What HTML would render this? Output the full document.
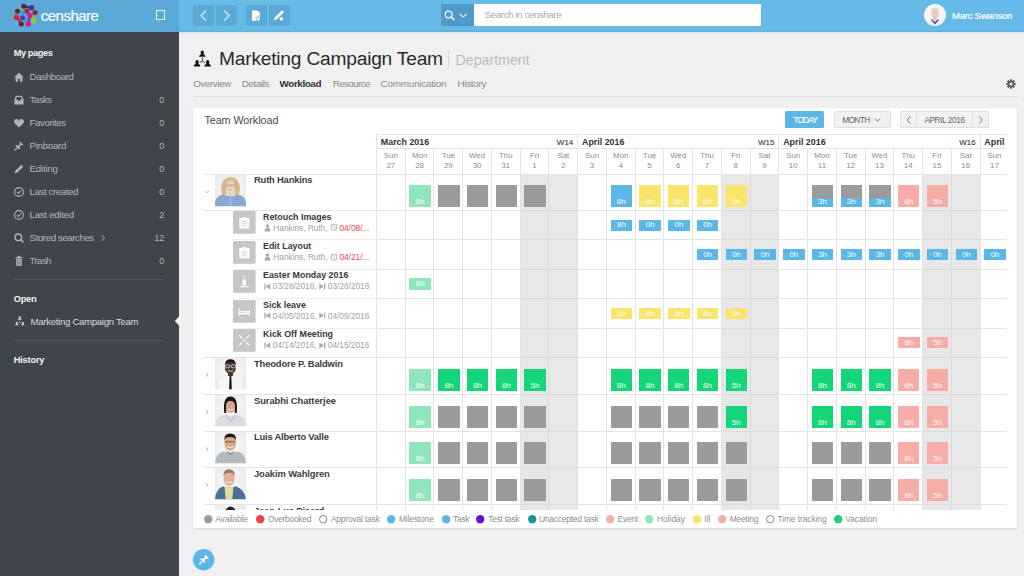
<!DOCTYPE html><html><head><meta charset="utf-8"><style>
html,body{margin:0;padding:0;width:1024px;height:576px;overflow:hidden;background:#f0f0f0;font-family:"Liberation Sans", sans-serif;}
.t{position:absolute;white-space:nowrap;}
.b{position:absolute;}
svg{position:absolute;overflow:visible;}
</style></head><body>
<div class="b" style="left:0.00px;top:0.00px;width:1024.00px;height:32.00px;box-shadow:0 1px 1.5px rgba(0,0,0,0.10);"></div>
<div class="b" style="left:0.00px;top:0.00px;width:179.00px;height:32.00px;background:#5aa9d7;"></div>
<div class="b" style="left:179.00px;top:0.00px;width:845.00px;height:32.00px;background:linear-gradient(#66bae7 0,#66bae7 30px,#5fb0dc 32px);"></div>
<div class="b" style="left:0.00px;top:32.00px;width:179.00px;height:544.00px;background:#40444b;"></div>
<svg style="left:0;top:0" width="60" height="31"><g stroke-width="2.2" stroke-linecap="round"><line x1="23.7" y1="6.2" x2="31.5" y2="7.8" stroke="#5a2a70"/><line x1="20.8" y1="9.1" x2="22.6" y2="12.6" stroke="#8ac83a"/><line x1="22.6" y1="12.6" x2="22.4" y2="18" stroke="#2a9ee0"/><line x1="26.7" y1="11" x2="29.9" y2="15.6" stroke="#c0204a"/><line x1="33.7" y1="20.7" x2="35" y2="12.6" stroke="#9cc82c"/><line x1="16.5" y1="17.2" x2="21.3" y2="23.9" stroke="#c02430"/><line x1="29.9" y1="15.6" x2="28.3" y2="23.9" stroke="#7a2aa0"/><line x1="22.4" y1="18" x2="26.1" y2="20.2" stroke="#2aa0e0"/></g><circle cx="23.7" cy="6.2" r="2.5" fill="#4a2548"/><circle cx="31.5" cy="7.8" r="2.7" fill="#5a2a90"/><circle cx="17.5" cy="11.3" r="2.5" fill="#5e2626"/><circle cx="26.7" cy="11" r="2.4" fill="#b0262e"/><circle cx="35" cy="12.6" r="2.6" fill="#8a2830"/><circle cx="22.6" cy="12.6" r="2.4" fill="#2a9ee0"/><circle cx="16.5" cy="17.2" r="2.6" fill="#d62730"/><circle cx="22.4" cy="18" r="2.5" fill="#6a2a9a"/><circle cx="29.9" cy="15.6" r="2.6" fill="#e0188c"/><circle cx="33.7" cy="20.7" r="2.7" fill="#9cc82c"/><circle cx="21.3" cy="23.9" r="2.5" fill="#6a2030"/><circle cx="28.3" cy="23.9" r="2.7" fill="#e8108c"/><circle cx="26.1" cy="20.2" r="2.0" fill="#2aa0e0"/></svg>
<div class="t" style="left:40.80px;top:8.25px;font-size:15px;line-height:15px;color:#ffffff;font-weight:400;letter-spacing:-0.515px;-webkit-text-stroke:0.15px #fff;">censhare</div>
<div class="b" style="left:155.50px;top:10.00px;width:9.00px;height:9.50px;border:1.3px solid #e8f4fb;box-sizing:border-box;"></div>
<div class="b" style="left:193.00px;top:4.50px;width:21.00px;height:21.00px;background:#5aaad8;border-radius:2px;"></div>
<div class="b" style="left:216.00px;top:4.50px;width:21.00px;height:21.00px;background:#5aaad8;border-radius:2px;"></div>
<div class="b" style="left:246.00px;top:4.50px;width:21.00px;height:21.00px;background:#5aaad8;border-radius:2px;"></div>
<div class="b" style="left:269.00px;top:4.50px;width:21.00px;height:21.00px;background:#5aaad8;border-radius:2px;"></div>
<svg style="left:193px;top:4.5px" width="21" height="21"><polyline points="13,5.6 8,10.6 13,15.6" fill="none" stroke="#e6f3fa" stroke-width="1.15"/></svg>
<svg style="left:216px;top:4.5px" width="21" height="21"><polyline points="8.2,5.6 13.2,10.6 8.2,15.6" fill="none" stroke="#e6f3fa" stroke-width="1.15"/></svg>
<svg style="left:246px;top:4.5px" width="21" height="21"><path d="M6,5.4 h5.3 l2.7,2.7 v7.6 h-8z" fill="#ffffff"/><polygon points="12.20,9.80 13.14,12.11 15.62,12.29 13.72,13.89 14.32,16.31 12.20,15.00 10.08,16.31 10.68,13.89 8.78,12.29 11.26,12.11" fill="#5aabd9"/><polygon points="12.20,11.10 12.85,12.71 14.58,12.83 13.25,13.94 13.67,15.62 12.20,14.70 10.73,15.62 11.15,13.94 9.82,12.83 11.55,12.71" fill="#ffffff"/></svg>
<svg style="left:269px;top:4.5px" width="21" height="21"><path d="M5,15.2 l0.6,-2.4 7.6,-7.6 1.8,1.8 -7.6,7.6z" fill="#ffffff"/><polygon points="12.30,9.80 13.30,12.22 15.91,12.43 13.92,14.13 14.53,16.67 12.30,15.30 10.07,16.67 10.68,14.13 8.69,12.43 11.30,12.22" fill="#5aabd9"/><polygon points="12.30,11.20 12.98,12.87 14.77,13.00 13.39,14.16 13.83,15.90 12.30,14.95 10.77,15.90 11.21,14.16 9.83,13.00 11.62,12.87" fill="#ffffff"/></svg>
<div class="b" style="left:441.00px;top:4.40px;width:33.00px;height:21.40px;background:#4f9ac8;"></div>
<svg style="left:441px;top:4.5px" width="33" height="21"><circle cx="7.7" cy="9.4" r="3.4" fill="none" stroke="#f4f9fc" stroke-width="1.25"/><line x1="10.2" y1="11.9" x2="12.8" y2="14.5" stroke="#f4f9fc" stroke-width="1.6" stroke-linecap="round"/><polyline points="18.9,9 22.2,12.1 25.5,9" fill="none" stroke="#f4f9fc" stroke-width="1.1"/></svg>
<div class="b" style="left:474.00px;top:4.40px;width:287.00px;height:21.40px;background:#ffffff;border-radius:0 1.5px 1.5px 0;"></div>
<div class="t" style="left:484.70px;top:10.38px;font-size:9.9px;line-height:9.9px;color:#a9a9a9;font-weight:400;letter-spacing:-0.477px;">Search in censhare</div>
<svg style="left:924px;top:4px" width="22" height="22"><defs><clipPath id="uc"><circle cx="11" cy="11" r="10.6"/></clipPath></defs><circle cx="11" cy="11" r="11" fill="#f4f6f9"/><g clip-path="url(#uc)"><rect x="0" y="0" width="22" height="22" fill="#f7f7fa"/><path d="M3,22 q1,-6 8,-6.5 q7,0.5 8,6.5z" fill="#ececf3"/><path d="M6.8,15.8 l4.2,4.6 4.2,-4.6 -1.2,-0.6 -3,2.8 -3,-2.8z" fill="#5e4f92"/><rect x="9.2" y="12" width="3.6" height="4" fill="#e2baa8"/><ellipse cx="11" cy="9.6" rx="3.9" ry="4.6" fill="#eccbbb"/><path d="M6.9,9 q-0.6,-5.4 4.1,-5.4 q4.7,0 4.1,5.4 q-0.5,-2.8 -4.1,-2.9 q-3.6,0.1 -4.1,2.9z" fill="#dcdcdc"/></g></svg>
<div class="t" style="left:952.00px;top:10.53px;font-size:9.5px;line-height:9.5px;color:#ffffff;font-weight:400;letter-spacing:-0.237px;-webkit-text-stroke:0.2px #fff;">Marc Swanson</div>
<div class="t" style="left:13.70px;top:49.49px;font-size:9.3px;line-height:9.3px;color:#f2f2f2;font-weight:700;letter-spacing:-0.447px;">My pages</div>
<div class="t" style="left:29.60px;top:71.97px;font-size:9.8px;line-height:9.8px;color:#b1b4b8;font-weight:400;letter-spacing:-0.449px;">Dashboard</div>
<svg style="left:13px;top:71.00px" width="12" height="12"><path d="M1.3,6.3 L6,1.6 L10.7,6.3 L9.4,6.3 L9.4,10.7 L7,10.7 L7,8 L5,8 L5,10.7 L2.6,10.7 L2.6,6.3z" fill="#b1b4b8"/></svg>
<div class="t" style="left:29.60px;top:95.02px;font-size:9.8px;line-height:9.8px;color:#b1b4b8;font-weight:400;letter-spacing:-0.649px;">Tasks</div>
<div class="t" style="right:859.70px;text-align:right;top:95.57px;font-size:9.15px;line-height:9.15px;color:#b1b4b8;font-weight:400;">0</div>
<svg style="left:13px;top:94.05px" width="12" height="12"><path d="M1.5,5.5 L3,1.7 H9 L10.5,5.5 V10.5 H1.5z" fill="#b1b4b8"/><path d="M3,5.5 H4.6 L5.4,7 H6.6 L7.4,5.5 H9 L8.2,3 H3.8z" fill="#40444b"/></svg>
<div class="t" style="left:29.60px;top:118.07px;font-size:9.8px;line-height:9.8px;color:#b1b4b8;font-weight:400;letter-spacing:-0.466px;">Favorites</div>
<div class="t" style="right:859.70px;text-align:right;top:118.62px;font-size:9.15px;line-height:9.15px;color:#b1b4b8;font-weight:400;">0</div>
<svg style="left:13px;top:117.10px" width="12" height="12"><path d="M6,10.6 L1.6,6.2 Q0.3,4.6 1.5,2.9 Q3.6,1 6,3.4 Q8.4,1 10.5,2.9 Q11.7,4.6 10.4,6.2z" fill="#b1b4b8"/></svg>
<div class="t" style="left:29.60px;top:141.12px;font-size:9.8px;line-height:9.8px;color:#b1b4b8;font-weight:400;letter-spacing:-0.340px;">Pinboard</div>
<div class="t" style="right:859.70px;text-align:right;top:141.67px;font-size:9.15px;line-height:9.15px;color:#b1b4b8;font-weight:400;">0</div>
<svg style="left:13px;top:140.15px" width="12" height="12"><path d="M7,1.5 L10.5,5 L9.5,5.5 L8,5 L6.5,6.5 L7,8.5 L6,9.5 L2.5,6 L3.5,5 L5.5,5.5 L7,4 L6.5,2.5z" fill="#b1b4b8"/><line x1="4" y1="8" x2="1.5" y2="10.5" stroke="#b1b4b8" stroke-width="1.2"/></svg>
<div class="t" style="left:29.60px;top:164.17px;font-size:9.8px;line-height:9.8px;color:#b1b4b8;font-weight:400;letter-spacing:-0.267px;">Editing</div>
<div class="t" style="right:859.70px;text-align:right;top:164.72px;font-size:9.15px;line-height:9.15px;color:#b1b4b8;font-weight:400;">0</div>
<svg style="left:13px;top:163.20px" width="12" height="12"><path d="M1.8,10.2 L2.3,7.8 L8.3,1.8 L10.2,3.7 L4.2,9.7z" fill="#b1b4b8"/></svg>
<div class="t" style="left:29.60px;top:187.22px;font-size:9.8px;line-height:9.8px;color:#b1b4b8;font-weight:400;letter-spacing:-0.468px;">Last created</div>
<div class="t" style="right:859.70px;text-align:right;top:187.77px;font-size:9.15px;line-height:9.15px;color:#b1b4b8;font-weight:400;">0</div>
<svg style="left:13px;top:186.25px" width="12" height="12"><circle cx="6" cy="6" r="4.4" fill="none" stroke="#b1b4b8" stroke-width="1.1"/><polyline points="4,6.2 5.5,7.5 8,4.5" fill="none" stroke="#b1b4b8" stroke-width="1.1"/></svg>
<div class="t" style="left:29.60px;top:210.27px;font-size:9.8px;line-height:9.8px;color:#b1b4b8;font-weight:400;letter-spacing:-0.340px;">Last edited</div>
<div class="t" style="right:859.70px;text-align:right;top:210.82px;font-size:9.15px;line-height:9.15px;color:#b1b4b8;font-weight:400;">2</div>
<svg style="left:13px;top:209.30px" width="12" height="12"><circle cx="6" cy="6" r="4.4" fill="none" stroke="#b1b4b8" stroke-width="1.1"/><polyline points="4,6.2 5.5,7.5 8,4.5" fill="none" stroke="#b1b4b8" stroke-width="1.1"/></svg>
<div class="t" style="left:29.60px;top:233.32px;font-size:9.8px;line-height:9.8px;color:#b1b4b8;font-weight:400;letter-spacing:-0.476px;">Stored searches</div>
<div class="t" style="right:859.70px;text-align:right;top:233.87px;font-size:9.15px;line-height:9.15px;color:#b1b4b8;font-weight:400;">12</div>
<svg style="left:13px;top:232.35px" width="12" height="12"><circle cx="5.3" cy="5.3" r="3.3" fill="none" stroke="#b1b4b8" stroke-width="1.4"/><line x1="7.6" y1="7.6" x2="10.4" y2="10.4" stroke="#b1b4b8" stroke-width="1.6"/></svg>
<svg style="left:97px;top:232.35px" width="12" height="12"><polyline points="4.5,3 7.5,6 4.5,9" fill="none" stroke="#b1b4b8" stroke-width="1"/></svg>
<div class="t" style="left:29.60px;top:256.37px;font-size:9.8px;line-height:9.8px;color:#b1b4b8;font-weight:400;letter-spacing:-0.677px;">Trash</div>
<div class="t" style="right:859.70px;text-align:right;top:256.92px;font-size:9.15px;line-height:9.15px;color:#b1b4b8;font-weight:400;">0</div>
<svg style="left:13px;top:255.40px" width="12" height="12"><rect x="2.5" y="2" width="7" height="1.3" fill="#b1b4b8"/><rect x="4.8" y="0.9" width="2.4" height="1.4" fill="#b1b4b8"/><rect x="3.2" y="3.8" width="5.6" height="7" fill="#b1b4b8"/><line x1="5" y1="5" x2="5" y2="10" stroke="#40444b" stroke-width="0.6"/><line x1="7" y1="5" x2="7" y2="10" stroke="#40444b" stroke-width="0.6"/></svg>
<div class="b" style="left:13.70px;top:279.00px;width:150.50px;height:1.00px;background:#51555c;"></div>
<div class="t" style="left:13.70px;top:294.60px;font-size:9.3px;line-height:9.3px;color:#f2f2f2;font-weight:700;letter-spacing:-0.291px;">Open</div>
<svg style="left:14.5px;top:316px" width="9.6" height="9.37" viewBox="5.8 6.2 16.8 16.4"><g fill="#d8d9db"><ellipse cx="14.1" cy="8.80" rx="1.65" ry="2.2"/><path d="M11.00,12.9 L11.00,12.10 Q11.30,10.40 14.1,10.30 Q16.90,10.40 17.20,12.10 L17.20,12.9z"/><ellipse cx="8.85" cy="18.50" rx="1.65" ry="2.2"/><path d="M5.75,22.6 L5.75,21.80 Q6.05,20.10 8.85,20.00 Q11.65,20.10 11.95,21.80 L11.95,22.6z"/><ellipse cx="19.45" cy="18.50" rx="1.65" ry="2.2"/><path d="M16.35,22.6 L16.35,21.80 Q16.65,20.10 19.45,20.00 Q22.25,20.10 22.55,21.80 L22.55,22.6z"/></g><g stroke="#d8d9db" stroke-width="0.8" fill="none"><line x1="14.1" y1="13.8" x2="14.1" y2="17.2"/><line x1="14.1" y1="17.2" x2="11.6" y2="18.8"/><line x1="14.1" y1="17.2" x2="16.6" y2="18.8"/></g></svg>
<div class="t" style="left:30.50px;top:317.04px;font-size:9.6px;line-height:9.6px;color:#d8d9db;font-weight:400;letter-spacing:-0.290px;">Marketing Campaign Team</div>
<svg style="left:174px;top:315px" width="6" height="12"><path d="M6,0.5 L0.8,6 L6,11.5z" fill="#f0f0f0"/></svg>
<div class="b" style="left:13.70px;top:340.00px;width:150.50px;height:1.00px;background:#51555c;"></div>
<div class="t" style="left:13.70px;top:355.90px;font-size:9.3px;line-height:9.3px;color:#f2f2f2;font-weight:700;letter-spacing:-0.204px;">History</div>
<svg style="left:193.8px;top:50.3px" width="16.8" height="16.40" viewBox="5.8 6.2 16.8 16.4"><g fill="#151515"><ellipse cx="14.1" cy="8.80" rx="1.65" ry="2.2"/><path d="M11.00,12.9 L11.00,12.10 Q11.30,10.40 14.1,10.30 Q16.90,10.40 17.20,12.10 L17.20,12.9z"/><ellipse cx="8.85" cy="18.50" rx="1.65" ry="2.2"/><path d="M5.75,22.6 L5.75,21.80 Q6.05,20.10 8.85,20.00 Q11.65,20.10 11.95,21.80 L11.95,22.6z"/><ellipse cx="19.45" cy="18.50" rx="1.65" ry="2.2"/><path d="M16.35,22.6 L16.35,21.80 Q16.65,20.10 19.45,20.00 Q22.25,20.10 22.55,21.80 L22.55,22.6z"/></g><g stroke="#151515" stroke-width="0.8" fill="none"><line x1="14.1" y1="13.8" x2="14.1" y2="17.2"/><line x1="14.1" y1="17.2" x2="11.6" y2="18.8"/><line x1="14.1" y1="17.2" x2="16.6" y2="18.8"/></g></svg>
<div class="t" style="left:219.00px;top:49.08px;font-size:19.2px;line-height:19.2px;color:#2b2b2b;font-weight:400;letter-spacing:-0.22px;">Marketing Campaign Team</div>
<div class="b" style="left:448.00px;top:50.00px;width:1.00px;height:18.00px;background:#d8d8d8;"></div>
<div class="t" style="left:455.50px;top:53.25px;font-size:14.3px;line-height:14.3px;color:#bcbcbc;font-weight:400;letter-spacing:-0.05px;">Department</div>
<div class="t" style="left:193.30px;top:79.08px;font-size:9.9px;line-height:9.9px;color:#8a8a8a;font-weight:400;letter-spacing:-0.457px;">Overview</div>
<div class="t" style="left:241.80px;top:79.08px;font-size:9.9px;line-height:9.9px;color:#8a8a8a;font-weight:400;letter-spacing:-0.427px;">Details</div>
<div class="t" style="left:279.60px;top:79.08px;font-size:9.9px;line-height:9.9px;color:#333;font-weight:700;letter-spacing:-0.427px;">Workload</div>
<div class="t" style="left:332.70px;top:79.08px;font-size:9.9px;line-height:9.9px;color:#8a8a8a;font-weight:400;letter-spacing:-0.671px;">Resource</div>
<div class="t" style="left:380.50px;top:79.08px;font-size:9.9px;line-height:9.9px;color:#8a8a8a;font-weight:400;letter-spacing:-0.216px;">Communication</div>
<div class="t" style="left:457.60px;top:79.08px;font-size:9.9px;line-height:9.9px;color:#8a8a8a;font-weight:400;letter-spacing:-0.333px;">History</div>
<div class="b" style="left:193.00px;top:96.00px;width:824.00px;height:1.00px;background:#dcdcdc;"></div>
<svg style="left:1006.1px;top:79px" width="10" height="10" viewBox="0 0 12 12"><g fill="#5e5e5e"><circle cx="6" cy="6" r="3.9"/><rect x="4.7" y="0.3" width="2.6" height="3" rx="0.4" transform="rotate(0 6 6)"/><rect x="4.7" y="0.3" width="2.6" height="3" rx="0.4" transform="rotate(45 6 6)"/><rect x="4.7" y="0.3" width="2.6" height="3" rx="0.4" transform="rotate(90 6 6)"/><rect x="4.7" y="0.3" width="2.6" height="3" rx="0.4" transform="rotate(135 6 6)"/><rect x="4.7" y="0.3" width="2.6" height="3" rx="0.4" transform="rotate(180 6 6)"/><rect x="4.7" y="0.3" width="2.6" height="3" rx="0.4" transform="rotate(225 6 6)"/><rect x="4.7" y="0.3" width="2.6" height="3" rx="0.4" transform="rotate(270 6 6)"/><rect x="4.7" y="0.3" width="2.6" height="3" rx="0.4" transform="rotate(315 6 6)"/></g><circle cx="6" cy="6" r="1.8" fill="#f0f0f0"/></svg>
<div class="b" style="left:193.00px;top:108.00px;width:824.00px;height:420.00px;background:#ffffff;box-shadow:0 1px 2px rgba(0,0,0,0.12);"></div>
<div class="t" style="left:204.40px;top:115.11px;font-size:10.7px;line-height:10.7px;color:#484848;font-weight:400;letter-spacing:-0.005px;">Team Workload</div>
<div class="b" style="left:785.40px;top:111.20px;width:39.10px;height:17.00px;background:#5cb6e6;border-radius:1.5px;"></div>
<div class="t" style="left:793.30px;top:116.34px;font-size:8.3px;line-height:8.3px;color:#ffffff;font-weight:400;letter-spacing:-0.786px;-webkit-text-stroke:0.15px #fff;">TODAY</div>
<div class="b" style="left:834.20px;top:111.20px;width:56.40px;height:17.00px;background:#f1f1f1;border:1px solid #dedede;box-sizing:border-box;border-radius:1.5px;"></div>
<div class="t" style="left:842.30px;top:116.34px;font-size:8.3px;line-height:8.3px;color:#666;font-weight:400;letter-spacing:-0.644px;">MONTH</div>
<svg style="left:873px;top:116px" width="9" height="8"><polyline points="2,2.8 4.5,5.3 7,2.8" fill="none" stroke="#707070" stroke-width="1"/></svg>
<div class="b" style="left:900.30px;top:111.20px;width:88.50px;height:17.00px;background:#f1f1f1;border:1px solid #dedede;box-sizing:border-box;border-radius:1.5px;"></div>
<div class="b" style="left:916.40px;top:111.20px;width:1.00px;height:17.00px;background:#dedede;"></div>
<div class="b" style="left:972.30px;top:111.20px;width:1.00px;height:17.00px;background:#dedede;"></div>
<div class="t" style="left:924.40px;top:116.34px;font-size:8.3px;line-height:8.3px;color:#666;font-weight:400;letter-spacing:-0.424px;">APRIL 2016</div>
<svg style="left:903px;top:114px" width="12" height="12"><polyline points="7.3,2.5 4.3,6 7.3,9.5" fill="none" stroke="#777" stroke-width="1"/></svg>
<svg style="left:975px;top:114px" width="12" height="12"><polyline points="4.3,2.5 7.3,6 4.3,9.5" fill="none" stroke="#777" stroke-width="1"/></svg>
<div class="b" style="left:922.56px;top:174.00px;width:28.74px;height:336.00px;background:#e7e7e7;"></div>
<div class="b" style="left:951.30px;top:174.00px;width:28.74px;height:336.00px;background:#e7e7e7;"></div>
<div class="b" style="left:520.20px;top:174.00px;width:28.74px;height:336.00px;background:#e7e7e7;"></div>
<div class="b" style="left:548.94px;top:174.00px;width:28.74px;height:336.00px;background:#e7e7e7;"></div>
<div class="b" style="left:721.38px;top:174.00px;width:28.74px;height:336.00px;background:#e7e7e7;"></div>
<div class="b" style="left:750.12px;top:174.00px;width:28.74px;height:336.00px;background:#e7e7e7;"></div>
<div class="b" style="left:376.50px;top:134.00px;width:630.50px;height:1.00px;background:#e4e4e4;"></div>
<div class="b" style="left:376.50px;top:148.20px;width:630.50px;height:1.00px;background:#e4e4e4;"></div>
<div class="b" style="left:376.00px;top:134.00px;width:1.00px;height:14.50px;background:#e4e4e4;"></div>
<div class="b" style="left:577.18px;top:134.00px;width:1.00px;height:14.50px;background:#e4e4e4;"></div>
<div class="b" style="left:778.36px;top:134.00px;width:1.00px;height:14.50px;background:#e4e4e4;"></div>
<div class="b" style="left:979.54px;top:134.00px;width:1.00px;height:14.50px;background:#e4e4e4;"></div>
<div class="b" style="left:376.00px;top:148.50px;width:1.00px;height:361.50px;background:#e4e4e4;"></div>
<div class="b" style="left:404.74px;top:148.50px;width:1.00px;height:361.50px;background:#e4e4e4;"></div>
<div class="b" style="left:433.48px;top:148.50px;width:1.00px;height:361.50px;background:#e4e4e4;"></div>
<div class="b" style="left:462.22px;top:148.50px;width:1.00px;height:361.50px;background:#e4e4e4;"></div>
<div class="b" style="left:490.96px;top:148.50px;width:1.00px;height:361.50px;background:#e4e4e4;"></div>
<div class="b" style="left:519.70px;top:148.50px;width:1.00px;height:361.50px;background:#e4e4e4;"></div>
<div class="b" style="left:548.44px;top:148.50px;width:1.00px;height:25.50px;background:#e4e4e4;"></div>
<div class="b" style="left:548.44px;top:174.00px;width:1.00px;height:336.00px;background:#dbdbdb;"></div>
<div class="b" style="left:577.18px;top:148.50px;width:1.00px;height:361.50px;background:#e4e4e4;"></div>
<div class="b" style="left:605.92px;top:148.50px;width:1.00px;height:361.50px;background:#e4e4e4;"></div>
<div class="b" style="left:634.66px;top:148.50px;width:1.00px;height:361.50px;background:#e4e4e4;"></div>
<div class="b" style="left:663.40px;top:148.50px;width:1.00px;height:361.50px;background:#e4e4e4;"></div>
<div class="b" style="left:692.14px;top:148.50px;width:1.00px;height:361.50px;background:#e4e4e4;"></div>
<div class="b" style="left:720.88px;top:148.50px;width:1.00px;height:361.50px;background:#e4e4e4;"></div>
<div class="b" style="left:749.62px;top:148.50px;width:1.00px;height:25.50px;background:#e4e4e4;"></div>
<div class="b" style="left:749.62px;top:174.00px;width:1.00px;height:336.00px;background:#dbdbdb;"></div>
<div class="b" style="left:778.36px;top:148.50px;width:1.00px;height:361.50px;background:#e4e4e4;"></div>
<div class="b" style="left:807.10px;top:148.50px;width:1.00px;height:361.50px;background:#e4e4e4;"></div>
<div class="b" style="left:835.84px;top:148.50px;width:1.00px;height:361.50px;background:#e4e4e4;"></div>
<div class="b" style="left:864.58px;top:148.50px;width:1.00px;height:361.50px;background:#e4e4e4;"></div>
<div class="b" style="left:893.32px;top:148.50px;width:1.00px;height:361.50px;background:#e4e4e4;"></div>
<div class="b" style="left:922.06px;top:148.50px;width:1.00px;height:361.50px;background:#e4e4e4;"></div>
<div class="b" style="left:950.80px;top:148.50px;width:1.00px;height:25.50px;background:#e4e4e4;"></div>
<div class="b" style="left:950.80px;top:174.00px;width:1.00px;height:336.00px;background:#dbdbdb;"></div>
<div class="b" style="left:979.54px;top:148.50px;width:1.00px;height:361.50px;background:#e4e4e4;"></div>
<div style="position:absolute;left:0;top:0;width:1024px;height:576px;clip-path:inset(0 17px 0 0)">
<div class="t" style="left:380.80px;top:138.03px;font-size:8.9px;line-height:8.9px;color:#333;font-weight:700;">March 2016</div>
<div class="t" style="right:450.72px;text-align:right;top:138.70px;font-size:8.0px;line-height:8.0px;color:#333;font-weight:400;-webkit-text-stroke:0.1px #333;">W14</div>
<div class="t" style="left:581.98px;top:138.03px;font-size:8.9px;line-height:8.9px;color:#333;font-weight:700;">April 2016</div>
<div class="t" style="right:249.54px;text-align:right;top:138.70px;font-size:8.0px;line-height:8.0px;color:#333;font-weight:400;-webkit-text-stroke:0.1px #333;">W15</div>
<div class="t" style="left:783.16px;top:138.03px;font-size:8.9px;line-height:8.9px;color:#333;font-weight:700;">April 2016</div>
<div class="t" style="right:48.36px;text-align:right;top:138.70px;font-size:8.0px;line-height:8.0px;color:#333;font-weight:400;-webkit-text-stroke:0.1px #333;">W16</div>
<div class="t" style="left:984.34px;top:138.03px;font-size:8.9px;line-height:8.9px;color:#333;font-weight:700;">April 2016</div>
</div>
<div class="t" style="left:340.87px;width:100px;text-align:center;top:152.38px;font-size:7.9px;line-height:7.9px;color:#8c8c8c;font-weight:400;">Sun</div>
<div class="t" style="left:340.87px;width:100px;text-align:center;top:162.48px;font-size:7.9px;line-height:7.9px;color:#8c8c8c;font-weight:400;">27</div>
<div class="t" style="left:369.61px;width:100px;text-align:center;top:152.38px;font-size:7.9px;line-height:7.9px;color:#8c8c8c;font-weight:400;">Mon</div>
<div class="t" style="left:369.61px;width:100px;text-align:center;top:162.48px;font-size:7.9px;line-height:7.9px;color:#8c8c8c;font-weight:400;">28</div>
<div class="t" style="left:398.35px;width:100px;text-align:center;top:152.38px;font-size:7.9px;line-height:7.9px;color:#8c8c8c;font-weight:400;">Tue</div>
<div class="t" style="left:398.35px;width:100px;text-align:center;top:162.48px;font-size:7.9px;line-height:7.9px;color:#8c8c8c;font-weight:400;">29</div>
<div class="t" style="left:427.09px;width:100px;text-align:center;top:152.38px;font-size:7.9px;line-height:7.9px;color:#8c8c8c;font-weight:400;">Wed</div>
<div class="t" style="left:427.09px;width:100px;text-align:center;top:162.48px;font-size:7.9px;line-height:7.9px;color:#8c8c8c;font-weight:400;">30</div>
<div class="t" style="left:455.83px;width:100px;text-align:center;top:152.38px;font-size:7.9px;line-height:7.9px;color:#8c8c8c;font-weight:400;">Thu</div>
<div class="t" style="left:455.83px;width:100px;text-align:center;top:162.48px;font-size:7.9px;line-height:7.9px;color:#8c8c8c;font-weight:400;">31</div>
<div class="t" style="left:484.57px;width:100px;text-align:center;top:152.38px;font-size:7.9px;line-height:7.9px;color:#8c8c8c;font-weight:400;">Fri</div>
<div class="t" style="left:484.57px;width:100px;text-align:center;top:162.48px;font-size:7.9px;line-height:7.9px;color:#8c8c8c;font-weight:400;">1</div>
<div class="t" style="left:513.31px;width:100px;text-align:center;top:152.38px;font-size:7.9px;line-height:7.9px;color:#8c8c8c;font-weight:400;">Sat</div>
<div class="t" style="left:513.31px;width:100px;text-align:center;top:162.48px;font-size:7.9px;line-height:7.9px;color:#8c8c8c;font-weight:400;">2</div>
<div class="t" style="left:542.05px;width:100px;text-align:center;top:152.38px;font-size:7.9px;line-height:7.9px;color:#8c8c8c;font-weight:400;">Sun</div>
<div class="t" style="left:542.05px;width:100px;text-align:center;top:162.48px;font-size:7.9px;line-height:7.9px;color:#8c8c8c;font-weight:400;">3</div>
<div class="t" style="left:570.79px;width:100px;text-align:center;top:152.38px;font-size:7.9px;line-height:7.9px;color:#8c8c8c;font-weight:400;">Mon</div>
<div class="t" style="left:570.79px;width:100px;text-align:center;top:162.48px;font-size:7.9px;line-height:7.9px;color:#8c8c8c;font-weight:400;">4</div>
<div class="t" style="left:599.53px;width:100px;text-align:center;top:152.38px;font-size:7.9px;line-height:7.9px;color:#8c8c8c;font-weight:400;">Tue</div>
<div class="t" style="left:599.53px;width:100px;text-align:center;top:162.48px;font-size:7.9px;line-height:7.9px;color:#8c8c8c;font-weight:400;">5</div>
<div class="t" style="left:628.27px;width:100px;text-align:center;top:152.38px;font-size:7.9px;line-height:7.9px;color:#8c8c8c;font-weight:400;">Wed</div>
<div class="t" style="left:628.27px;width:100px;text-align:center;top:162.48px;font-size:7.9px;line-height:7.9px;color:#8c8c8c;font-weight:400;">6</div>
<div class="t" style="left:657.01px;width:100px;text-align:center;top:152.38px;font-size:7.9px;line-height:7.9px;color:#8c8c8c;font-weight:400;">Thu</div>
<div class="t" style="left:657.01px;width:100px;text-align:center;top:162.48px;font-size:7.9px;line-height:7.9px;color:#8c8c8c;font-weight:400;">7</div>
<div class="t" style="left:685.75px;width:100px;text-align:center;top:152.38px;font-size:7.9px;line-height:7.9px;color:#8c8c8c;font-weight:400;">Fri</div>
<div class="t" style="left:685.75px;width:100px;text-align:center;top:162.48px;font-size:7.9px;line-height:7.9px;color:#8c8c8c;font-weight:400;">8</div>
<div class="t" style="left:714.49px;width:100px;text-align:center;top:152.38px;font-size:7.9px;line-height:7.9px;color:#8c8c8c;font-weight:400;">Sat</div>
<div class="t" style="left:714.49px;width:100px;text-align:center;top:162.48px;font-size:7.9px;line-height:7.9px;color:#8c8c8c;font-weight:400;">9</div>
<div class="t" style="left:743.23px;width:100px;text-align:center;top:152.38px;font-size:7.9px;line-height:7.9px;color:#8c8c8c;font-weight:400;">Sun</div>
<div class="t" style="left:743.23px;width:100px;text-align:center;top:162.48px;font-size:7.9px;line-height:7.9px;color:#8c8c8c;font-weight:400;">10</div>
<div class="t" style="left:771.97px;width:100px;text-align:center;top:152.38px;font-size:7.9px;line-height:7.9px;color:#8c8c8c;font-weight:400;">Mon</div>
<div class="t" style="left:771.97px;width:100px;text-align:center;top:162.48px;font-size:7.9px;line-height:7.9px;color:#8c8c8c;font-weight:400;">11</div>
<div class="t" style="left:800.71px;width:100px;text-align:center;top:152.38px;font-size:7.9px;line-height:7.9px;color:#8c8c8c;font-weight:400;">Tue</div>
<div class="t" style="left:800.71px;width:100px;text-align:center;top:162.48px;font-size:7.9px;line-height:7.9px;color:#8c8c8c;font-weight:400;">12</div>
<div class="t" style="left:829.45px;width:100px;text-align:center;top:152.38px;font-size:7.9px;line-height:7.9px;color:#8c8c8c;font-weight:400;">Wed</div>
<div class="t" style="left:829.45px;width:100px;text-align:center;top:162.48px;font-size:7.9px;line-height:7.9px;color:#8c8c8c;font-weight:400;">13</div>
<div class="t" style="left:858.19px;width:100px;text-align:center;top:152.38px;font-size:7.9px;line-height:7.9px;color:#8c8c8c;font-weight:400;">Thu</div>
<div class="t" style="left:858.19px;width:100px;text-align:center;top:162.48px;font-size:7.9px;line-height:7.9px;color:#8c8c8c;font-weight:400;">14</div>
<div class="t" style="left:886.93px;width:100px;text-align:center;top:152.38px;font-size:7.9px;line-height:7.9px;color:#8c8c8c;font-weight:400;">Fri</div>
<div class="t" style="left:886.93px;width:100px;text-align:center;top:162.48px;font-size:7.9px;line-height:7.9px;color:#8c8c8c;font-weight:400;">15</div>
<div class="t" style="left:915.67px;width:100px;text-align:center;top:152.38px;font-size:7.9px;line-height:7.9px;color:#8c8c8c;font-weight:400;">Sat</div>
<div class="t" style="left:915.67px;width:100px;text-align:center;top:162.48px;font-size:7.9px;line-height:7.9px;color:#8c8c8c;font-weight:400;">16</div>
<div class="t" style="left:944.41px;width:100px;text-align:center;top:152.38px;font-size:7.9px;line-height:7.9px;color:#8c8c8c;font-weight:400;">Sun</div>
<div class="t" style="left:944.41px;width:100px;text-align:center;top:162.48px;font-size:7.9px;line-height:7.9px;color:#8c8c8c;font-weight:400;">17</div>
<div style="position:absolute;left:0;top:0;width:1024px;height:576px;clip-path:inset(0 17px 66px 0)">
<div class="b" style="left:409.44px;top:185.00px;width:21.40px;height:21.70px;background:#90e5ba;"></div>
<div class="t" style="left:370.14px;width:100px;text-align:center;top:198.00px;font-size:8.0px;line-height:8.0px;color:#ffffff;font-weight:400;opacity:0.95;">8h</div>
<div class="b" style="left:438.18px;top:185.00px;width:21.40px;height:21.70px;background:#9b9b9b;"></div>
<div class="b" style="left:466.92px;top:185.00px;width:21.40px;height:21.70px;background:#9b9b9b;"></div>
<div class="b" style="left:495.66px;top:185.00px;width:21.40px;height:21.70px;background:#9b9b9b;"></div>
<div class="b" style="left:524.40px;top:185.00px;width:21.40px;height:21.70px;background:#9b9b9b;"></div>
<div class="b" style="left:610.62px;top:185.00px;width:21.40px;height:21.70px;background:#5db7e6;"></div>
<div class="t" style="left:571.32px;width:100px;text-align:center;top:198.00px;font-size:8.0px;line-height:8.0px;color:#ffffff;font-weight:400;opacity:0.95;">8h</div>
<div class="b" style="left:639.36px;top:185.00px;width:21.40px;height:21.70px;background:#fbe46a;"></div>
<div class="t" style="left:600.06px;width:100px;text-align:center;top:198.00px;font-size:8.0px;line-height:8.0px;color:#ffffff;font-weight:400;opacity:0.95;">8h</div>
<div class="b" style="left:668.10px;top:185.00px;width:21.40px;height:21.70px;background:#fbe46a;"></div>
<div class="t" style="left:628.80px;width:100px;text-align:center;top:198.00px;font-size:8.0px;line-height:8.0px;color:#ffffff;font-weight:400;opacity:0.95;">8h</div>
<div class="b" style="left:696.84px;top:185.00px;width:21.40px;height:21.70px;background:#fbe46a;"></div>
<div class="t" style="left:657.54px;width:100px;text-align:center;top:198.00px;font-size:8.0px;line-height:8.0px;color:#ffffff;font-weight:400;opacity:0.95;">8h</div>
<div class="b" style="left:725.58px;top:185.00px;width:21.40px;height:21.70px;background:#fbe46a;"></div>
<div class="t" style="left:686.28px;width:100px;text-align:center;top:198.00px;font-size:8.0px;line-height:8.0px;color:#ffffff;font-weight:400;opacity:0.95;">5h</div>
<div class="b" style="left:811.80px;top:185.00px;width:21.40px;height:21.70px;background:#9b9b9b;"></div>
<div class="b" style="left:811.80px;top:198.40px;width:21.40px;height:8.30px;background:#5db7e6;"></div>
<div class="t" style="left:772.50px;width:100px;text-align:center;top:198.00px;font-size:8.0px;line-height:8.0px;color:#ffffff;font-weight:400;opacity:0.95;">3h</div>
<div class="b" style="left:840.54px;top:185.00px;width:21.40px;height:21.70px;background:#9b9b9b;"></div>
<div class="b" style="left:840.54px;top:198.40px;width:21.40px;height:8.30px;background:#5db7e6;"></div>
<div class="t" style="left:801.24px;width:100px;text-align:center;top:198.00px;font-size:8.0px;line-height:8.0px;color:#ffffff;font-weight:400;opacity:0.95;">3h</div>
<div class="b" style="left:869.28px;top:185.00px;width:21.40px;height:21.70px;background:#9b9b9b;"></div>
<div class="b" style="left:869.28px;top:198.40px;width:21.40px;height:8.30px;background:#5db7e6;"></div>
<div class="t" style="left:829.98px;width:100px;text-align:center;top:198.00px;font-size:8.0px;line-height:8.0px;color:#ffffff;font-weight:400;opacity:0.95;">3h</div>
<div class="b" style="left:898.02px;top:185.00px;width:21.40px;height:21.70px;background:#f6aca7;"></div>
<div class="t" style="left:858.72px;width:100px;text-align:center;top:198.00px;font-size:8.0px;line-height:8.0px;color:#ffffff;font-weight:400;opacity:0.95;">8h</div>
<div class="b" style="left:926.76px;top:185.00px;width:21.40px;height:21.70px;background:#f6aca7;"></div>
<div class="t" style="left:887.46px;width:100px;text-align:center;top:198.00px;font-size:8.0px;line-height:8.0px;color:#ffffff;font-weight:400;opacity:0.95;">5h</div>
<div class="b" style="left:610.62px;top:219.57px;width:21.60px;height:11.10px;background:#5db7e6;"></div>
<div class="t" style="left:571.42px;width:100px;text-align:center;top:221.36px;font-size:7.9px;line-height:7.9px;color:#ffffff;font-weight:400;opacity:0.95;">8h</div>
<div class="b" style="left:639.36px;top:219.57px;width:21.60px;height:11.10px;background:#5db7e6;"></div>
<div class="t" style="left:600.16px;width:100px;text-align:center;top:221.36px;font-size:7.9px;line-height:7.9px;color:#ffffff;font-weight:400;opacity:0.95;">0h</div>
<div class="b" style="left:668.10px;top:219.57px;width:21.60px;height:11.10px;background:#5db7e6;"></div>
<div class="t" style="left:628.90px;width:100px;text-align:center;top:221.36px;font-size:7.9px;line-height:7.9px;color:#ffffff;font-weight:400;opacity:0.95;">0h</div>
<div class="b" style="left:696.84px;top:219.57px;width:21.60px;height:11.10px;background:#5db7e6;"></div>
<div class="t" style="left:657.64px;width:100px;text-align:center;top:221.36px;font-size:7.9px;line-height:7.9px;color:#ffffff;font-weight:400;opacity:0.95;">0h</div>
<div class="b" style="left:696.84px;top:249.02px;width:21.60px;height:11.10px;background:#5db7e6;"></div>
<div class="t" style="left:657.64px;width:100px;text-align:center;top:250.81px;font-size:7.9px;line-height:7.9px;color:#ffffff;font-weight:400;opacity:0.95;">0h</div>
<div class="b" style="left:725.58px;top:249.02px;width:21.60px;height:11.10px;background:#5db7e6;"></div>
<div class="t" style="left:686.38px;width:100px;text-align:center;top:250.81px;font-size:7.9px;line-height:7.9px;color:#ffffff;font-weight:400;opacity:0.95;">0h</div>
<div class="b" style="left:754.32px;top:249.02px;width:21.60px;height:11.10px;background:#5db7e6;"></div>
<div class="t" style="left:715.12px;width:100px;text-align:center;top:250.81px;font-size:7.9px;line-height:7.9px;color:#ffffff;font-weight:400;opacity:0.95;">0h</div>
<div class="b" style="left:783.06px;top:249.02px;width:21.60px;height:11.10px;background:#5db7e6;"></div>
<div class="t" style="left:743.86px;width:100px;text-align:center;top:250.81px;font-size:7.9px;line-height:7.9px;color:#ffffff;font-weight:400;opacity:0.95;">0h</div>
<div class="b" style="left:811.80px;top:249.02px;width:21.60px;height:11.10px;background:#5db7e6;"></div>
<div class="t" style="left:772.60px;width:100px;text-align:center;top:250.81px;font-size:7.9px;line-height:7.9px;color:#ffffff;font-weight:400;opacity:0.95;">3h</div>
<div class="b" style="left:840.54px;top:249.02px;width:21.60px;height:11.10px;background:#5db7e6;"></div>
<div class="t" style="left:801.34px;width:100px;text-align:center;top:250.81px;font-size:7.9px;line-height:7.9px;color:#ffffff;font-weight:400;opacity:0.95;">3h</div>
<div class="b" style="left:869.28px;top:249.02px;width:21.60px;height:11.10px;background:#5db7e6;"></div>
<div class="t" style="left:830.08px;width:100px;text-align:center;top:250.81px;font-size:7.9px;line-height:7.9px;color:#ffffff;font-weight:400;opacity:0.95;">3h</div>
<div class="b" style="left:898.02px;top:249.02px;width:21.60px;height:11.10px;background:#5db7e6;"></div>
<div class="t" style="left:858.82px;width:100px;text-align:center;top:250.81px;font-size:7.9px;line-height:7.9px;color:#ffffff;font-weight:400;opacity:0.95;">0h</div>
<div class="b" style="left:926.76px;top:249.02px;width:21.60px;height:11.10px;background:#5db7e6;"></div>
<div class="t" style="left:887.56px;width:100px;text-align:center;top:250.81px;font-size:7.9px;line-height:7.9px;color:#ffffff;font-weight:400;opacity:0.95;">0h</div>
<div class="b" style="left:955.50px;top:249.02px;width:21.60px;height:11.10px;background:#5db7e6;"></div>
<div class="t" style="left:916.30px;width:100px;text-align:center;top:250.81px;font-size:7.9px;line-height:7.9px;color:#ffffff;font-weight:400;opacity:0.95;">0h</div>
<div class="b" style="left:984.24px;top:249.02px;width:21.60px;height:11.10px;background:#5db7e6;"></div>
<div class="t" style="left:945.04px;width:100px;text-align:center;top:250.81px;font-size:7.9px;line-height:7.9px;color:#ffffff;font-weight:400;opacity:0.95;">0h</div>
<div class="b" style="left:409.44px;top:278.47px;width:21.60px;height:11.10px;background:#90e5ba;"></div>
<div class="t" style="left:370.24px;width:100px;text-align:center;top:280.26px;font-size:7.9px;line-height:7.9px;color:#ffffff;font-weight:400;opacity:0.95;">8h</div>
<div class="b" style="left:610.62px;top:307.93px;width:21.60px;height:11.10px;background:#fbe46a;"></div>
<div class="t" style="left:571.42px;width:100px;text-align:center;top:309.71px;font-size:7.9px;line-height:7.9px;color:#ffffff;font-weight:400;opacity:0.95;">0h</div>
<div class="b" style="left:639.36px;top:307.93px;width:21.60px;height:11.10px;background:#fbe46a;"></div>
<div class="t" style="left:600.16px;width:100px;text-align:center;top:309.71px;font-size:7.9px;line-height:7.9px;color:#ffffff;font-weight:400;opacity:0.95;">8h</div>
<div class="b" style="left:668.10px;top:307.93px;width:21.60px;height:11.10px;background:#fbe46a;"></div>
<div class="t" style="left:628.90px;width:100px;text-align:center;top:309.71px;font-size:7.9px;line-height:7.9px;color:#ffffff;font-weight:400;opacity:0.95;">8h</div>
<div class="b" style="left:696.84px;top:307.93px;width:21.60px;height:11.10px;background:#fbe46a;"></div>
<div class="t" style="left:657.64px;width:100px;text-align:center;top:309.71px;font-size:7.9px;line-height:7.9px;color:#ffffff;font-weight:400;opacity:0.95;">8h</div>
<div class="b" style="left:725.58px;top:307.93px;width:21.60px;height:11.10px;background:#fbe46a;"></div>
<div class="t" style="left:686.38px;width:100px;text-align:center;top:309.71px;font-size:7.9px;line-height:7.9px;color:#ffffff;font-weight:400;opacity:0.95;">5h</div>
<div class="b" style="left:898.02px;top:337.35px;width:21.60px;height:11.10px;background:#f6aca7;"></div>
<div class="t" style="left:858.82px;width:100px;text-align:center;top:339.13px;font-size:7.9px;line-height:7.9px;color:#ffffff;font-weight:400;opacity:0.95;">8h</div>
<div class="b" style="left:926.76px;top:337.35px;width:21.60px;height:11.10px;background:#f6aca7;"></div>
<div class="t" style="left:887.56px;width:100px;text-align:center;top:339.13px;font-size:7.9px;line-height:7.9px;color:#ffffff;font-weight:400;opacity:0.95;">5h</div>
<div class="b" style="left:409.44px;top:369.00px;width:21.40px;height:21.70px;background:#90e5ba;"></div>
<div class="t" style="left:370.14px;width:100px;text-align:center;top:382.00px;font-size:8.0px;line-height:8.0px;color:#ffffff;font-weight:400;opacity:0.95;">8h</div>
<div class="b" style="left:438.18px;top:369.00px;width:21.40px;height:21.70px;background:#14d679;"></div>
<div class="t" style="left:398.88px;width:100px;text-align:center;top:382.00px;font-size:8.0px;line-height:8.0px;color:#ffffff;font-weight:400;opacity:0.95;">8h</div>
<div class="b" style="left:466.92px;top:369.00px;width:21.40px;height:21.70px;background:#14d679;"></div>
<div class="t" style="left:427.62px;width:100px;text-align:center;top:382.00px;font-size:8.0px;line-height:8.0px;color:#ffffff;font-weight:400;opacity:0.95;">8h</div>
<div class="b" style="left:495.66px;top:369.00px;width:21.40px;height:21.70px;background:#14d679;"></div>
<div class="t" style="left:456.36px;width:100px;text-align:center;top:382.00px;font-size:8.0px;line-height:8.0px;color:#ffffff;font-weight:400;opacity:0.95;">8h</div>
<div class="b" style="left:524.40px;top:369.00px;width:21.40px;height:21.70px;background:#14d679;"></div>
<div class="t" style="left:485.10px;width:100px;text-align:center;top:382.00px;font-size:8.0px;line-height:8.0px;color:#ffffff;font-weight:400;opacity:0.95;">5h</div>
<div class="b" style="left:610.62px;top:369.00px;width:21.40px;height:21.70px;background:#14d679;"></div>
<div class="t" style="left:571.32px;width:100px;text-align:center;top:382.00px;font-size:8.0px;line-height:8.0px;color:#ffffff;font-weight:400;opacity:0.95;">8h</div>
<div class="b" style="left:639.36px;top:369.00px;width:21.40px;height:21.70px;background:#14d679;"></div>
<div class="t" style="left:600.06px;width:100px;text-align:center;top:382.00px;font-size:8.0px;line-height:8.0px;color:#ffffff;font-weight:400;opacity:0.95;">8h</div>
<div class="b" style="left:668.10px;top:369.00px;width:21.40px;height:21.70px;background:#14d679;"></div>
<div class="t" style="left:628.80px;width:100px;text-align:center;top:382.00px;font-size:8.0px;line-height:8.0px;color:#ffffff;font-weight:400;opacity:0.95;">8h</div>
<div class="b" style="left:696.84px;top:369.00px;width:21.40px;height:21.70px;background:#14d679;"></div>
<div class="t" style="left:657.54px;width:100px;text-align:center;top:382.00px;font-size:8.0px;line-height:8.0px;color:#ffffff;font-weight:400;opacity:0.95;">8h</div>
<div class="b" style="left:725.58px;top:369.00px;width:21.40px;height:21.70px;background:#14d679;"></div>
<div class="t" style="left:686.28px;width:100px;text-align:center;top:382.00px;font-size:8.0px;line-height:8.0px;color:#ffffff;font-weight:400;opacity:0.95;">5h</div>
<div class="b" style="left:811.80px;top:369.00px;width:21.40px;height:21.70px;background:#14d679;"></div>
<div class="t" style="left:772.50px;width:100px;text-align:center;top:382.00px;font-size:8.0px;line-height:8.0px;color:#ffffff;font-weight:400;opacity:0.95;">8h</div>
<div class="b" style="left:840.54px;top:369.00px;width:21.40px;height:21.70px;background:#14d679;"></div>
<div class="t" style="left:801.24px;width:100px;text-align:center;top:382.00px;font-size:8.0px;line-height:8.0px;color:#ffffff;font-weight:400;opacity:0.95;">8h</div>
<div class="b" style="left:869.28px;top:369.00px;width:21.40px;height:21.70px;background:#14d679;"></div>
<div class="t" style="left:829.98px;width:100px;text-align:center;top:382.00px;font-size:8.0px;line-height:8.0px;color:#ffffff;font-weight:400;opacity:0.95;">8h</div>
<div class="b" style="left:898.02px;top:369.00px;width:21.40px;height:21.70px;background:#f6aca7;"></div>
<div class="t" style="left:858.72px;width:100px;text-align:center;top:382.00px;font-size:8.0px;line-height:8.0px;color:#ffffff;font-weight:400;opacity:0.95;">8h</div>
<div class="b" style="left:926.76px;top:369.00px;width:21.40px;height:21.70px;background:#f6aca7;"></div>
<div class="t" style="left:887.46px;width:100px;text-align:center;top:382.00px;font-size:8.0px;line-height:8.0px;color:#ffffff;font-weight:400;opacity:0.95;">5h</div>
<div class="b" style="left:409.44px;top:405.85px;width:21.40px;height:21.70px;background:#90e5ba;"></div>
<div class="t" style="left:370.14px;width:100px;text-align:center;top:418.85px;font-size:8.0px;line-height:8.0px;color:#ffffff;font-weight:400;opacity:0.95;">8h</div>
<div class="b" style="left:438.18px;top:405.85px;width:21.40px;height:21.70px;background:#9b9b9b;"></div>
<div class="b" style="left:466.92px;top:405.85px;width:21.40px;height:21.70px;background:#9b9b9b;"></div>
<div class="b" style="left:495.66px;top:405.85px;width:21.40px;height:21.70px;background:#9b9b9b;"></div>
<div class="b" style="left:524.40px;top:405.85px;width:21.40px;height:21.70px;background:#9b9b9b;"></div>
<div class="b" style="left:610.62px;top:405.85px;width:21.40px;height:21.70px;background:#9b9b9b;"></div>
<div class="b" style="left:639.36px;top:405.85px;width:21.40px;height:21.70px;background:#9b9b9b;"></div>
<div class="b" style="left:668.10px;top:405.85px;width:21.40px;height:21.70px;background:#9b9b9b;"></div>
<div class="b" style="left:696.84px;top:405.85px;width:21.40px;height:21.70px;background:#9b9b9b;"></div>
<div class="b" style="left:725.58px;top:405.85px;width:21.40px;height:21.70px;background:#14d679;"></div>
<div class="t" style="left:686.28px;width:100px;text-align:center;top:418.85px;font-size:8.0px;line-height:8.0px;color:#ffffff;font-weight:400;opacity:0.95;">5h</div>
<div class="b" style="left:811.80px;top:405.85px;width:21.40px;height:21.70px;background:#14d679;"></div>
<div class="t" style="left:772.50px;width:100px;text-align:center;top:418.85px;font-size:8.0px;line-height:8.0px;color:#ffffff;font-weight:400;opacity:0.95;">8h</div>
<div class="b" style="left:840.54px;top:405.85px;width:21.40px;height:21.70px;background:#14d679;"></div>
<div class="t" style="left:801.24px;width:100px;text-align:center;top:418.85px;font-size:8.0px;line-height:8.0px;color:#ffffff;font-weight:400;opacity:0.95;">8h</div>
<div class="b" style="left:869.28px;top:405.85px;width:21.40px;height:21.70px;background:#14d679;"></div>
<div class="t" style="left:829.98px;width:100px;text-align:center;top:418.85px;font-size:8.0px;line-height:8.0px;color:#ffffff;font-weight:400;opacity:0.95;">8h</div>
<div class="b" style="left:898.02px;top:405.85px;width:21.40px;height:21.70px;background:#f6aca7;"></div>
<div class="t" style="left:858.72px;width:100px;text-align:center;top:418.85px;font-size:8.0px;line-height:8.0px;color:#ffffff;font-weight:400;opacity:0.95;">8h</div>
<div class="b" style="left:926.76px;top:405.85px;width:21.40px;height:21.70px;background:#f6aca7;"></div>
<div class="t" style="left:887.46px;width:100px;text-align:center;top:418.85px;font-size:8.0px;line-height:8.0px;color:#ffffff;font-weight:400;opacity:0.95;">5h</div>
<div class="b" style="left:409.44px;top:442.40px;width:21.40px;height:21.70px;background:#90e5ba;"></div>
<div class="t" style="left:370.14px;width:100px;text-align:center;top:455.40px;font-size:8.0px;line-height:8.0px;color:#ffffff;font-weight:400;opacity:0.95;">8h</div>
<div class="b" style="left:438.18px;top:442.40px;width:21.40px;height:21.70px;background:#9b9b9b;"></div>
<div class="b" style="left:466.92px;top:442.40px;width:21.40px;height:21.70px;background:#9b9b9b;"></div>
<div class="b" style="left:495.66px;top:442.40px;width:21.40px;height:21.70px;background:#9b9b9b;"></div>
<div class="b" style="left:524.40px;top:442.40px;width:21.40px;height:21.70px;background:#9b9b9b;"></div>
<div class="b" style="left:610.62px;top:442.40px;width:21.40px;height:21.70px;background:#9b9b9b;"></div>
<div class="b" style="left:639.36px;top:442.40px;width:21.40px;height:21.70px;background:#9b9b9b;"></div>
<div class="b" style="left:668.10px;top:442.40px;width:21.40px;height:21.70px;background:#9b9b9b;"></div>
<div class="b" style="left:696.84px;top:442.40px;width:21.40px;height:21.70px;background:#9b9b9b;"></div>
<div class="b" style="left:725.58px;top:442.40px;width:21.40px;height:21.70px;background:#9b9b9b;"></div>
<div class="b" style="left:811.80px;top:442.40px;width:21.40px;height:21.70px;background:#9b9b9b;"></div>
<div class="b" style="left:840.54px;top:442.40px;width:21.40px;height:21.70px;background:#9b9b9b;"></div>
<div class="b" style="left:869.28px;top:442.40px;width:21.40px;height:21.70px;background:#9b9b9b;"></div>
<div class="b" style="left:898.02px;top:442.40px;width:21.40px;height:21.70px;background:#f6aca7;"></div>
<div class="t" style="left:858.72px;width:100px;text-align:center;top:455.40px;font-size:8.0px;line-height:8.0px;color:#ffffff;font-weight:400;opacity:0.95;">8h</div>
<div class="b" style="left:926.76px;top:442.40px;width:21.40px;height:21.70px;background:#f6aca7;"></div>
<div class="t" style="left:887.46px;width:100px;text-align:center;top:455.40px;font-size:8.0px;line-height:8.0px;color:#ffffff;font-weight:400;opacity:0.95;">5h</div>
<div class="b" style="left:409.44px;top:479.00px;width:21.40px;height:21.70px;background:#90e5ba;"></div>
<div class="t" style="left:370.14px;width:100px;text-align:center;top:492.00px;font-size:8.0px;line-height:8.0px;color:#ffffff;font-weight:400;opacity:0.95;">8h</div>
<div class="b" style="left:438.18px;top:479.00px;width:21.40px;height:21.70px;background:#9b9b9b;"></div>
<div class="b" style="left:466.92px;top:479.00px;width:21.40px;height:21.70px;background:#9b9b9b;"></div>
<div class="b" style="left:495.66px;top:479.00px;width:21.40px;height:21.70px;background:#9b9b9b;"></div>
<div class="b" style="left:524.40px;top:479.00px;width:21.40px;height:21.70px;background:#9b9b9b;"></div>
<div class="b" style="left:610.62px;top:479.00px;width:21.40px;height:21.70px;background:#9b9b9b;"></div>
<div class="b" style="left:639.36px;top:479.00px;width:21.40px;height:21.70px;background:#9b9b9b;"></div>
<div class="b" style="left:668.10px;top:479.00px;width:21.40px;height:21.70px;background:#9b9b9b;"></div>
<div class="b" style="left:696.84px;top:479.00px;width:21.40px;height:21.70px;background:#9b9b9b;"></div>
<div class="b" style="left:725.58px;top:479.00px;width:21.40px;height:21.70px;background:#9b9b9b;"></div>
<div class="b" style="left:811.80px;top:479.00px;width:21.40px;height:21.70px;background:#9b9b9b;"></div>
<div class="b" style="left:840.54px;top:479.00px;width:21.40px;height:21.70px;background:#9b9b9b;"></div>
<div class="b" style="left:869.28px;top:479.00px;width:21.40px;height:21.70px;background:#9b9b9b;"></div>
<div class="b" style="left:898.02px;top:479.00px;width:21.40px;height:21.70px;background:#f6aca7;"></div>
<div class="t" style="left:858.72px;width:100px;text-align:center;top:492.00px;font-size:8.0px;line-height:8.0px;color:#ffffff;font-weight:400;opacity:0.95;">8h</div>
<div class="b" style="left:926.76px;top:479.00px;width:21.40px;height:21.70px;background:#f6aca7;"></div>
<div class="t" style="left:887.46px;width:100px;text-align:center;top:492.00px;font-size:8.0px;line-height:8.0px;color:#ffffff;font-weight:400;opacity:0.95;">5h</div>
<div class="b" style="left:409.44px;top:515.60px;width:21.40px;height:21.70px;background:#90e5ba;"></div>
<div class="t" style="left:370.14px;width:100px;text-align:center;top:528.60px;font-size:8.0px;line-height:8.0px;color:#ffffff;font-weight:400;opacity:0.95;">8h</div>
<div class="b" style="left:438.18px;top:515.60px;width:21.40px;height:21.70px;background:#9b9b9b;"></div>
<div class="b" style="left:466.92px;top:515.60px;width:21.40px;height:21.70px;background:#9b9b9b;"></div>
<div class="b" style="left:495.66px;top:515.60px;width:21.40px;height:21.70px;background:#9b9b9b;"></div>
<div class="b" style="left:524.40px;top:515.60px;width:21.40px;height:21.70px;background:#9b9b9b;"></div>
<div class="b" style="left:610.62px;top:515.60px;width:21.40px;height:21.70px;background:#9b9b9b;"></div>
<div class="b" style="left:639.36px;top:515.60px;width:21.40px;height:21.70px;background:#9b9b9b;"></div>
<div class="b" style="left:668.10px;top:515.60px;width:21.40px;height:21.70px;background:#9b9b9b;"></div>
<div class="b" style="left:696.84px;top:515.60px;width:21.40px;height:21.70px;background:#9b9b9b;"></div>
<div class="b" style="left:725.58px;top:515.60px;width:21.40px;height:21.70px;background:#9b9b9b;"></div>
<div class="b" style="left:811.80px;top:515.60px;width:21.40px;height:21.70px;background:#9b9b9b;"></div>
<div class="b" style="left:840.54px;top:515.60px;width:21.40px;height:21.70px;background:#9b9b9b;"></div>
<div class="b" style="left:869.28px;top:515.60px;width:21.40px;height:21.70px;background:#9b9b9b;"></div>
<div class="b" style="left:898.02px;top:515.60px;width:21.40px;height:21.70px;background:#f6aca7;"></div>
<div class="t" style="left:858.72px;width:100px;text-align:center;top:528.60px;font-size:8.0px;line-height:8.0px;color:#ffffff;font-weight:400;opacity:0.95;">8h</div>
<div class="b" style="left:926.76px;top:515.60px;width:21.40px;height:21.70px;background:#f6aca7;"></div>
<div class="t" style="left:887.46px;width:100px;text-align:center;top:528.60px;font-size:8.0px;line-height:8.0px;color:#ffffff;font-weight:400;opacity:0.95;">5h</div>
</div>
<div class="b" style="left:204.00px;top:173.70px;width:172.50px;height:1.00px;background:#e4e4e4;"></div>
<div class="b" style="left:204.00px;top:209.90px;width:172.50px;height:1.00px;background:#e4e4e4;"></div>
<div class="b" style="left:233.00px;top:239.35px;width:143.50px;height:1.00px;background:#f0f0f0;"></div>
<div class="b" style="left:233.00px;top:268.80px;width:143.50px;height:1.00px;background:#f0f0f0;"></div>
<div class="b" style="left:233.00px;top:298.25px;width:143.50px;height:1.00px;background:#f0f0f0;"></div>
<div class="b" style="left:233.00px;top:327.70px;width:143.50px;height:1.00px;background:#f0f0f0;"></div>
<div class="b" style="left:204.00px;top:357.10px;width:172.50px;height:1.00px;background:#e4e4e4;"></div>
<div class="b" style="left:204.00px;top:393.90px;width:172.50px;height:1.00px;background:#e4e4e4;"></div>
<div class="b" style="left:204.00px;top:430.75px;width:172.50px;height:1.00px;background:#e4e4e4;"></div>
<div class="b" style="left:204.00px;top:467.30px;width:172.50px;height:1.00px;background:#e4e4e4;"></div>
<div class="b" style="left:204.00px;top:503.90px;width:172.50px;height:1.00px;background:#e4e4e4;"></div>
<div class="b" style="left:376.50px;top:173.70px;width:630.50px;height:1.00px;background:#e4e4e4;"></div>
<div class="b" style="left:376.50px;top:209.90px;width:630.50px;height:1.00px;background:#e4e4e4;"></div>
<div class="b" style="left:520.70px;top:209.90px;width:56.48px;height:1.00px;background:#dbdbdb;"></div>
<div class="b" style="left:721.88px;top:209.90px;width:56.48px;height:1.00px;background:#dbdbdb;"></div>
<div class="b" style="left:923.06px;top:209.90px;width:56.48px;height:1.00px;background:#dbdbdb;"></div>
<div class="b" style="left:376.50px;top:239.35px;width:630.50px;height:1.00px;background:#e4e4e4;"></div>
<div class="b" style="left:520.70px;top:239.35px;width:56.48px;height:1.00px;background:#dbdbdb;"></div>
<div class="b" style="left:721.88px;top:239.35px;width:56.48px;height:1.00px;background:#dbdbdb;"></div>
<div class="b" style="left:923.06px;top:239.35px;width:56.48px;height:1.00px;background:#dbdbdb;"></div>
<div class="b" style="left:376.50px;top:268.80px;width:630.50px;height:1.00px;background:#e4e4e4;"></div>
<div class="b" style="left:520.70px;top:268.80px;width:56.48px;height:1.00px;background:#dbdbdb;"></div>
<div class="b" style="left:721.88px;top:268.80px;width:56.48px;height:1.00px;background:#dbdbdb;"></div>
<div class="b" style="left:923.06px;top:268.80px;width:56.48px;height:1.00px;background:#dbdbdb;"></div>
<div class="b" style="left:376.50px;top:298.25px;width:630.50px;height:1.00px;background:#e4e4e4;"></div>
<div class="b" style="left:520.70px;top:298.25px;width:56.48px;height:1.00px;background:#dbdbdb;"></div>
<div class="b" style="left:721.88px;top:298.25px;width:56.48px;height:1.00px;background:#dbdbdb;"></div>
<div class="b" style="left:923.06px;top:298.25px;width:56.48px;height:1.00px;background:#dbdbdb;"></div>
<div class="b" style="left:376.50px;top:327.70px;width:630.50px;height:1.00px;background:#e4e4e4;"></div>
<div class="b" style="left:520.70px;top:327.70px;width:56.48px;height:1.00px;background:#dbdbdb;"></div>
<div class="b" style="left:721.88px;top:327.70px;width:56.48px;height:1.00px;background:#dbdbdb;"></div>
<div class="b" style="left:923.06px;top:327.70px;width:56.48px;height:1.00px;background:#dbdbdb;"></div>
<div class="b" style="left:376.50px;top:357.10px;width:630.50px;height:1.00px;background:#e4e4e4;"></div>
<div class="b" style="left:520.70px;top:357.10px;width:56.48px;height:1.00px;background:#dbdbdb;"></div>
<div class="b" style="left:721.88px;top:357.10px;width:56.48px;height:1.00px;background:#dbdbdb;"></div>
<div class="b" style="left:923.06px;top:357.10px;width:56.48px;height:1.00px;background:#dbdbdb;"></div>
<div class="b" style="left:376.50px;top:393.90px;width:630.50px;height:1.00px;background:#e4e4e4;"></div>
<div class="b" style="left:520.70px;top:393.90px;width:56.48px;height:1.00px;background:#dbdbdb;"></div>
<div class="b" style="left:721.88px;top:393.90px;width:56.48px;height:1.00px;background:#dbdbdb;"></div>
<div class="b" style="left:923.06px;top:393.90px;width:56.48px;height:1.00px;background:#dbdbdb;"></div>
<div class="b" style="left:376.50px;top:430.75px;width:630.50px;height:1.00px;background:#e4e4e4;"></div>
<div class="b" style="left:520.70px;top:430.75px;width:56.48px;height:1.00px;background:#dbdbdb;"></div>
<div class="b" style="left:721.88px;top:430.75px;width:56.48px;height:1.00px;background:#dbdbdb;"></div>
<div class="b" style="left:923.06px;top:430.75px;width:56.48px;height:1.00px;background:#dbdbdb;"></div>
<div class="b" style="left:376.50px;top:467.30px;width:630.50px;height:1.00px;background:#e4e4e4;"></div>
<div class="b" style="left:520.70px;top:467.30px;width:56.48px;height:1.00px;background:#dbdbdb;"></div>
<div class="b" style="left:721.88px;top:467.30px;width:56.48px;height:1.00px;background:#dbdbdb;"></div>
<div class="b" style="left:923.06px;top:467.30px;width:56.48px;height:1.00px;background:#dbdbdb;"></div>
<div class="b" style="left:376.50px;top:503.90px;width:630.50px;height:1.00px;background:#e4e4e4;"></div>
<div class="b" style="left:520.70px;top:503.90px;width:56.48px;height:1.00px;background:#dbdbdb;"></div>
<div class="b" style="left:721.88px;top:503.90px;width:56.48px;height:1.00px;background:#dbdbdb;"></div>
<div class="b" style="left:923.06px;top:503.90px;width:56.48px;height:1.00px;background:#dbdbdb;"></div>
<svg style="left:204px;top:189.30px" width="6" height="6"><polyline points="1.2,2 3,3.8 4.8,2" fill="none" stroke="#999" stroke-width="0.8"/></svg>
<svg style="left:215px;top:174.6px" width="31" height="31.4" viewBox="0 0 31 31.5" preserveAspectRatio="none"><defs><clipPath id="cruth"><rect width="31" height="31.5"/></clipPath><radialGradient id="bgruth" cx="0.5" cy="0.4" r="0.7"><stop offset="0" stop-color="#fafbfb"/><stop offset="1" stop-color="#e6e8ea"/></radialGradient></defs><g clip-path="url(#cruth)"><rect width="31" height="31.5" fill="url(#bgruth)"/><path d="M7.5,19.5 q-2.5,-6 -0.5,-11 q2,-6.5 8.5,-6.5 q6.5,0 8.5,6.5 q2,5 -0.5,11 q-2,1.5 -4,0.5 v-6 h-8 v6 q-2,1 -4,-0.5z" fill="#d2bb86"/><rect x="12.3" y="14" width="6.2" height="7" fill="#ebcdbf"/><ellipse cx="15.4" cy="11.6" rx="4.5" ry="5.6" fill="#f0d5c8"/><path d="M10.6,7.6 q4.8,-3.6 9.6,0 q-0.6,-4.2 -4.8,-4.2 q-4.2,0 -4.8,4.2z" fill="#d8c290"/><g fill="none" stroke="#8a7c78" stroke-width="0.6" opacity="0.8"><rect x="11" y="9.3" width="3.8" height="2.2" rx="0.6"/><rect x="16" y="9.3" width="3.8" height="2.2" rx="0.6"/></g><path d="M13.3,14.5 q2.1,1.2 4.2,0" stroke="#c98a8a" stroke-width="0.7" fill="none"/><path d="M-1,31.5 q0.5,-9.5 8.5,-12 q8,3.5 16,0 q8,2.5 8.5,12z" fill="#8ba8d4"/><path d="M12,19.8 q3.5,2 7,0" stroke="#e8d4c8" stroke-width="1.2" fill="none"/><line x1="15.5" y1="22" x2="15.5" y2="31.5" stroke="#c8d4ea" stroke-width="0.6"/></g></svg>
<div class="t" style="left:254.00px;top:175.41px;font-size:9.4px;line-height:9.4px;color:#3c3c3c;font-weight:700;letter-spacing:-0.185px;">Ruth Hankins</div>
<svg style="left:233px;top:211.20000000000002px" width="22.6" height="22.8" viewBox="0 0 22 22" preserveAspectRatio="none"><rect width="22" height="22" rx="1" fill="#c6c6c6"/><rect x="6.2" y="6.8" width="9.8" height="10" fill="#fff"/><rect x="9.6" y="5.8" width="2.8" height="1.6" fill="#fff"/><g stroke="#c6c6c6" stroke-width="0.75"><line x1="8.2" y1="10.3" x2="14" y2="10.3"/><line x1="8.2" y1="12.3" x2="14" y2="12.3"/><line x1="8.2" y1="14.3" x2="14" y2="14.3"/></g></svg>
<div class="t" style="left:263.00px;top:212.53px;font-size:8.9px;line-height:8.9px;color:#383838;font-weight:700;">Retouch Images</div>
<svg style="left:263.5px;top:223.60px" width="7" height="8"><circle cx="3.5" cy="2" r="1.7" fill="#aaa"/><path d="M0.5,7.5 q0,-3.7 3,-3.7 q3,0 3,3.7z" fill="#aaa"/></svg>
<div class="t" style="left:273.30px;top:223.54px;font-size:8.3px;line-height:8.3px;color:#a2a2a2;font-weight:400;">Hankins, Ruth,</div>
<svg style="left:330px;top:223.40px" width="8" height="8"><circle cx="4" cy="4.3" r="2.9" fill="none" stroke="#aaa" stroke-width="0.9"/><polyline points="4,2.8 4,4.5 5.2,5" fill="none" stroke="#aaa" stroke-width="0.7"/><line x1="0.8" y1="1.8" x2="2" y2="0.8" stroke="#aaa" stroke-width="0.9"/><line x1="7.2" y1="1.8" x2="6" y2="0.8" stroke="#aaa" stroke-width="0.9"/></svg>
<div class="t" style="left:339.40px;top:223.54px;font-size:8.3px;line-height:8.3px;color:#e5454e;font-weight:400;">04/08/...</div>
<svg style="left:233px;top:240.65px" width="22.6" height="22.8" viewBox="0 0 22 22" preserveAspectRatio="none"><rect width="22" height="22" rx="1" fill="#c6c6c6"/><rect x="6.2" y="6.8" width="9.8" height="10" fill="#fff"/><rect x="9.6" y="5.8" width="2.8" height="1.6" fill="#fff"/><g stroke="#c6c6c6" stroke-width="0.75"><line x1="8.2" y1="10.3" x2="14" y2="10.3"/><line x1="8.2" y1="12.3" x2="14" y2="12.3"/><line x1="8.2" y1="14.3" x2="14" y2="14.3"/></g></svg>
<div class="t" style="left:263.00px;top:241.98px;font-size:8.9px;line-height:8.9px;color:#383838;font-weight:700;">Edit Layout</div>
<svg style="left:263.5px;top:253.05px" width="7" height="8"><circle cx="3.5" cy="2" r="1.7" fill="#aaa"/><path d="M0.5,7.5 q0,-3.7 3,-3.7 q3,0 3,3.7z" fill="#aaa"/></svg>
<div class="t" style="left:273.30px;top:253.00px;font-size:8.3px;line-height:8.3px;color:#a2a2a2;font-weight:400;">Hankins, Ruth,</div>
<svg style="left:330px;top:252.85px" width="8" height="8"><circle cx="4" cy="4.3" r="2.9" fill="none" stroke="#aaa" stroke-width="0.9"/><polyline points="4,2.8 4,4.5 5.2,5" fill="none" stroke="#aaa" stroke-width="0.7"/><line x1="0.8" y1="1.8" x2="2" y2="0.8" stroke="#aaa" stroke-width="0.9"/><line x1="7.2" y1="1.8" x2="6" y2="0.8" stroke="#aaa" stroke-width="0.9"/></svg>
<div class="t" style="left:339.40px;top:253.00px;font-size:8.3px;line-height:8.3px;color:#e5454e;font-weight:400;">04/21/...</div>
<svg style="left:233px;top:270.1px" width="22.6" height="22.8" viewBox="0 0 22 22" preserveAspectRatio="none"><rect width="22" height="22" rx="1" fill="#c6c6c6"/><rect x="9.3" y="9" width="3.4" height="6" fill="#fff"/><path d="M11,5 q1.5,2 0,3.3 q-1.5,-1.3 0,-3.3z" fill="#fff"/><rect x="7" y="15.5" width="8" height="1.2" fill="#fff"/></svg>
<div class="t" style="left:263.00px;top:271.44px;font-size:8.9px;line-height:8.9px;color:#383838;font-weight:700;">Easter Monday 2016</div>
<svg style="left:263.5px;top:283.00px" width="7" height="7"><rect x="0.3" y="0.5" width="1.3" height="6" fill="#aaa"/><path d="M6.3,0.5 L1.6,3.5 L6.3,6.5z" fill="#aaa"/></svg>
<div class="t" style="left:272.80px;top:282.44px;font-size:8.3px;line-height:8.3px;color:#a2a2a2;font-weight:400;">03/28/2016,</div>
<svg style="left:319px;top:283.00px" width="7" height="7"><rect x="5" y="0.5" width="1.3" height="6" fill="#aaa"/><path d="M0.3,0.5 L5,3.5 L0.3,6.5z" fill="#aaa"/></svg>
<div class="t" style="left:327.80px;top:282.44px;font-size:8.3px;line-height:8.3px;color:#a2a2a2;font-weight:400;">03/28/2016</div>
<svg style="left:233px;top:299.55px" width="22.6" height="22.8" viewBox="0 0 22 22" preserveAspectRatio="none"><rect width="22" height="22" rx="1" fill="#c6c6c6"/><rect x="5.5" y="8" width="1" height="7" fill="#fff"/><rect x="15.5" y="9.5" width="1" height="5.5" fill="#fff"/><rect x="5.5" y="12.5" width="11" height="1.4" fill="#fff"/><rect x="7.5" y="10.3" width="2" height="1.6" fill="#fff"/><rect x="10" y="10.5" width="5.5" height="1.6" fill="#fff"/></svg>
<div class="t" style="left:263.00px;top:300.88px;font-size:8.9px;line-height:8.9px;color:#383838;font-weight:700;">Sick leave</div>
<svg style="left:263.5px;top:312.45px" width="7" height="7"><rect x="0.3" y="0.5" width="1.3" height="6" fill="#aaa"/><path d="M6.3,0.5 L1.6,3.5 L6.3,6.5z" fill="#aaa"/></svg>
<div class="t" style="left:272.80px;top:311.89px;font-size:8.3px;line-height:8.3px;color:#a2a2a2;font-weight:400;">04/05/2016,</div>
<svg style="left:319px;top:312.45px" width="7" height="7"><rect x="5" y="0.5" width="1.3" height="6" fill="#aaa"/><path d="M0.3,0.5 L5,3.5 L0.3,6.5z" fill="#aaa"/></svg>
<div class="t" style="left:327.80px;top:311.89px;font-size:8.3px;line-height:8.3px;color:#a2a2a2;font-weight:400;">04/09/2016</div>
<svg style="left:233px;top:329.0px" width="22.6" height="22.8" viewBox="0 0 22 22" preserveAspectRatio="none"><rect width="22" height="22" rx="1" fill="#c6c6c6"/><g stroke="#fff" stroke-width="1.2" fill="none"><line x1="6" y1="6" x2="9" y2="9"/><line x1="16" y1="6" x2="13" y2="9"/><line x1="6" y1="16" x2="9" y2="13"/><line x1="16" y1="16" x2="13" y2="13"/></g><circle cx="11" cy="11" r="1" fill="#fff"/></svg>
<div class="t" style="left:263.00px;top:330.33px;font-size:8.9px;line-height:8.9px;color:#383838;font-weight:700;">Kick Off Meeting</div>
<svg style="left:263.5px;top:341.90px" width="7" height="7"><rect x="0.3" y="0.5" width="1.3" height="6" fill="#aaa"/><path d="M6.3,0.5 L1.6,3.5 L6.3,6.5z" fill="#aaa"/></svg>
<div class="t" style="left:272.80px;top:341.34px;font-size:8.3px;line-height:8.3px;color:#a2a2a2;font-weight:400;">04/14/2016,</div>
<svg style="left:319px;top:341.90px" width="7" height="7"><rect x="5" y="0.5" width="1.3" height="6" fill="#aaa"/><path d="M0.3,0.5 L5,3.5 L0.3,6.5z" fill="#aaa"/></svg>
<div class="t" style="left:327.80px;top:341.34px;font-size:8.3px;line-height:8.3px;color:#a2a2a2;font-weight:400;">04/15/2016</div>
<svg style="left:204px;top:372.20px" width="6" height="6"><polyline points="2,1.2 3.8,3 2,4.8" fill="none" stroke="#999" stroke-width="0.8"/></svg>
<svg style="left:215px;top:358.0px" width="31" height="31.4" viewBox="0 0 31 31.5" preserveAspectRatio="none"><defs><clipPath id="ctheo"><rect width="31" height="31.5"/></clipPath><radialGradient id="bgtheo" cx="0.5" cy="0.4" r="0.7"><stop offset="0" stop-color="#fafbfb"/><stop offset="1" stop-color="#e6e8ea"/></radialGradient></defs><g clip-path="url(#ctheo)"><rect width="31" height="31.5" fill="url(#bgtheo)"/><path d="M3,31.5 q0.5,-12 8,-14.5 h9 q7.5,2.5 8,14.5z" fill="#f4f6fa"/><rect x="13" y="14" width="5" height="4" fill="#4a3124"/><ellipse cx="15.4" cy="9" rx="5.6" ry="7.2" fill="#4a3124"/><path d="M9.8,6.5 q5.6,-6 11.2,0 q-0.8,-5.2 -5.6,-5.2 q-4.8,0 -5.6,5.2z" fill="#1e1616"/><g fill="none" stroke="#c9d0d8" stroke-width="0.9"><rect x="10.4" y="7" width="4.3" height="2.8" rx="0.8"/><rect x="16.2" y="7" width="4.3" height="2.8" rx="0.8"/></g><path d="M12.8,12.6 q2.7,1.6 5.4,0" stroke="#f3f3f3" stroke-width="0.9" fill="none"/><path d="M14.6,17.5 h1.7 l0.5,14 h-2.7z" fill="#151515"/><path d="M11.5,16.8 l3,2.4 M19.4,16.8 l-3,2.4" stroke="#c8ccd6" stroke-width="0.6"/></g></svg>
<div class="t" style="left:254.00px;top:358.81px;font-size:9.4px;line-height:9.4px;color:#3c3c3c;font-weight:700;letter-spacing:-0.143px;">Theodore P. Baldwin</div>
<svg style="left:204px;top:409.02px" width="6" height="6"><polyline points="2,1.2 3.8,3 2,4.8" fill="none" stroke="#999" stroke-width="0.8"/></svg>
<svg style="left:215px;top:394.79999999999995px" width="31" height="31.4" viewBox="0 0 31 31.5" preserveAspectRatio="none"><defs><clipPath id="csura"><rect width="31" height="31.5"/></clipPath><radialGradient id="bgsura" cx="0.5" cy="0.4" r="0.7"><stop offset="0" stop-color="#fafbfb"/><stop offset="1" stop-color="#e6e8ea"/></radialGradient></defs><g clip-path="url(#csura)"><rect width="31" height="31.5" fill="url(#bgsura)"/><path d="M0,31.5 q0.5,-9 8,-11.5 q7.5,1.5 15,0 q7.5,2.5 8,11.5z" fill="#d9dbde"/><path d="M11,20 l4.5,6.5 4.5,-6.5" stroke="#a3a6aa" stroke-width="0.8" fill="none"/><path d="M9.3,18 q-1.8,-16.5 6.2,-16.5 q8,0 6.2,16.5 h-2 v-8 h-8.4 v8z" fill="#1c1616"/><ellipse cx="15.5" cy="11.5" rx="4.6" ry="6.3" fill="#d6a689"/><path d="M10.8,8 q4.7,-4.5 9.4,0 v-3.5 q-4.7,-2.5 -9.4,0z" fill="#1c1616"/><path d="M13,14.3 q2.5,1.5 5,0" stroke="#fff" stroke-width="0.8" fill="none"/></g></svg>
<div class="t" style="left:254.00px;top:395.61px;font-size:9.4px;line-height:9.4px;color:#3c3c3c;font-weight:700;letter-spacing:-0.081px;">Surabhi Chatterjee</div>
<svg style="left:204px;top:445.72px" width="6" height="6"><polyline points="2,1.2 3.8,3 2,4.8" fill="none" stroke="#999" stroke-width="0.8"/></svg>
<svg style="left:215px;top:431.65px" width="31" height="31.4" viewBox="0 0 31 31.5" preserveAspectRatio="none"><defs><clipPath id="cluis"><rect width="31" height="31.5"/></clipPath><radialGradient id="bgluis" cx="0.5" cy="0.4" r="0.7"><stop offset="0" stop-color="#fafbfb"/><stop offset="1" stop-color="#e6e8ea"/></radialGradient></defs><g clip-path="url(#cluis)"><rect width="31" height="31.5" fill="url(#bgluis)"/><path d="M0,31.5 q0.5,-9.5 8,-12 q7.5,2 15,0 q7.5,2.5 8,12z" fill="#b5b9be"/><path d="M12,19.5 l3.5,3 3.5,-3" stroke="#6a6e74" stroke-width="0.9" fill="none"/><ellipse cx="15.2" cy="10.5" rx="5.9" ry="8.2" fill="#d9a888"/><path d="M9.3,8.5 q-0.5,-7 5.9,-7 q6.4,0 5.9,7 q-1,-3.5 -5.9,-3.5 q-4.9,0 -5.9,3.5z" fill="#1f1a18"/><rect x="10" y="9" width="10.5" height="1.5" fill="#5a4a40" opacity="0.55"/><path d="M12,14.5 q3.2,2 6.4,0" stroke="#fff" stroke-width="0.9" fill="none"/></g></svg>
<div class="t" style="left:254.00px;top:432.46px;font-size:9.4px;line-height:9.4px;color:#3c3c3c;font-weight:700;letter-spacing:-0.202px;">Luis Alberto Valle</div>
<svg style="left:204px;top:482.30px" width="6" height="6"><polyline points="2,1.2 3.8,3 2,4.8" fill="none" stroke="#999" stroke-width="0.8"/></svg>
<svg style="left:215px;top:468.2px" width="31" height="31.4" viewBox="0 0 31 31.5" preserveAspectRatio="none"><defs><clipPath id="cjoak"><rect width="31" height="31.5"/></clipPath><radialGradient id="bgjoak" cx="0.5" cy="0.4" r="0.7"><stop offset="0" stop-color="#fafbfb"/><stop offset="1" stop-color="#e6e8ea"/></radialGradient></defs><g clip-path="url(#cjoak)"><rect width="31" height="31.5" fill="url(#bgjoak)"/><path d="M0,31.5 q0.5,-10 7.5,-13 q7,1.5 14,0 q8,3 9.5,13z" fill="#4d6e96"/><path d="M9.5,18.5 q4.5,1.5 9,0 l-1.2,13 h-6.6z" fill="#e6d9a3"/><ellipse cx="14.1" cy="10.2" rx="5.6" ry="8" fill="#e3b596"/><path d="M8.5,8 q-0.5,-6.8 5.6,-6.8 q6.1,0 5.6,6.8 q-1.5,-3.3 -5.6,-3.3 q-4.1,0 -5.6,3.3z" fill="#9c7c5e"/><path d="M11,13.8 q3,2 6,0" stroke="#fff" stroke-width="0.9" fill="none"/></g></svg>
<div class="t" style="left:254.00px;top:469.01px;font-size:9.4px;line-height:9.4px;color:#3c3c3c;font-weight:700;letter-spacing:-0.105px;">Joakim Wahlgren</div>
<div style="position:absolute;left:200px;top:504.4px;width:176px;height:5.60px;overflow:hidden">
<svg style="left:4px;top:14.50px" width="6" height="6"><polyline points="2,1.2 3.8,3 2,4.8" fill="none" stroke="#999" stroke-width="0.8"/></svg>
<svg style="left:15px;top:0.39999999999997726px" width="31" height="31.4" viewBox="0 0 31 31.5" preserveAspectRatio="none"><defs><clipPath id="cjean"><rect width="31" height="31.5"/></clipPath><radialGradient id="bgjean" cx="0.5" cy="0.4" r="0.7"><stop offset="0" stop-color="#fafbfb"/><stop offset="1" stop-color="#e6e8ea"/></radialGradient></defs><g clip-path="url(#cjean)"><rect width="31" height="31.5" fill="url(#bgjean)"/><ellipse cx="15.5" cy="8" rx="5.5" ry="6.5" fill="#2a2220"/><path d="M0,31.5 q0.5,-10 8,-13 q7.5,2 15,0 q7.5,3 8,13z" fill="#5a6068"/></g></svg>
<div class="t" style="left:54.00px;top:1.21px;font-size:9.4px;line-height:9.4px;color:#3c3c3c;font-weight:700;letter-spacing:-0.163px;">Jean-Luc Picard</div>
</div>
<svg style="left:202.90px;top:514.2px" width="10.4" height="10.4"><circle cx="5.2" cy="5.2" r="4.15" fill="#9b9b9b"/></svg>
<div class="t" style="left:215.30px;top:514.67px;font-size:8.5px;line-height:8.5px;color:#8f8f8f;font-weight:400;letter-spacing:-0.216px;">Available</div>
<svg style="left:255.00px;top:514.2px" width="10.4" height="10.4"><circle cx="5.2" cy="5.2" r="4.15" fill="#f0404a"/></svg>
<div class="t" style="left:267.90px;top:514.67px;font-size:8.5px;line-height:8.5px;color:#8f8f8f;font-weight:400;letter-spacing:-0.311px;">Overbooked</div>
<svg style="left:318.00px;top:514.2px" width="10.4" height="10.4"><circle cx="5.2" cy="5.2" r="3.7" fill="#fff" stroke="#7a7a7a" stroke-width="0.9"/></svg>
<div class="t" style="left:330.90px;top:514.67px;font-size:8.5px;line-height:8.5px;color:#8f8f8f;font-weight:400;letter-spacing:-0.215px;">Approval task</div>
<svg style="left:385.70px;top:514.2px" width="10.4" height="10.4"><circle cx="5.2" cy="5.2" r="4.15" fill="#5db7e6"/></svg>
<div class="t" style="left:398.90px;top:514.67px;font-size:8.5px;line-height:8.5px;color:#8f8f8f;font-weight:400;letter-spacing:-0.177px;">Milestone</div>
<svg style="left:440.80px;top:514.2px" width="10.4" height="10.4"><circle cx="5.2" cy="5.2" r="4.15" fill="#5db7e6"/></svg>
<div class="t" style="left:453.00px;top:514.67px;font-size:8.5px;line-height:8.5px;color:#8f8f8f;font-weight:400;letter-spacing:-0.321px;">Task</div>
<svg style="left:475.20px;top:514.2px" width="10.4" height="10.4"><circle cx="5.2" cy="5.2" r="4.15" fill="#6a10cc"/></svg>
<div class="t" style="left:488.00px;top:514.67px;font-size:8.5px;line-height:8.5px;color:#8f8f8f;font-weight:400;letter-spacing:-0.250px;">Test task</div>
<svg style="left:526.50px;top:514.2px" width="10.4" height="10.4"><circle cx="5.2" cy="5.2" r="4.15" fill="#149494"/></svg>
<div class="t" style="left:538.90px;top:514.67px;font-size:8.5px;line-height:8.5px;color:#8f8f8f;font-weight:400;letter-spacing:-0.242px;">Unaccepted task</div>
<svg style="left:605.20px;top:514.2px" width="10.4" height="10.4"><circle cx="5.2" cy="5.2" r="4.15" fill="#f6aca7"/></svg>
<div class="t" style="left:617.60px;top:514.67px;font-size:8.5px;line-height:8.5px;color:#8f8f8f;font-weight:400;letter-spacing:-0.290px;">Event</div>
<svg style="left:644.00px;top:514.2px" width="10.4" height="10.4"><circle cx="5.2" cy="5.2" r="4.15" fill="#90e5ba"/></svg>
<div class="t" style="left:657.00px;top:514.67px;font-size:8.5px;line-height:8.5px;color:#8f8f8f;font-weight:400;letter-spacing:-0.066px;">Holiday</div>
<svg style="left:691.50px;top:514.2px" width="10.4" height="10.4"><circle cx="5.2" cy="5.2" r="4.15" fill="#fbe46a"/></svg>
<div class="t" style="left:704.30px;top:514.67px;font-size:8.5px;line-height:8.5px;color:#8f8f8f;font-weight:400;letter-spacing:0.020px;">Ill</div>
<svg style="left:716.80px;top:514.2px" width="10.4" height="10.4"><circle cx="5.2" cy="5.2" r="4.15" fill="#f6aca7"/></svg>
<div class="t" style="left:729.70px;top:514.67px;font-size:8.5px;line-height:8.5px;color:#8f8f8f;font-weight:400;letter-spacing:-0.221px;">Meeting</div>
<svg style="left:764.50px;top:514.2px" width="10.4" height="10.4"><circle cx="5.2" cy="5.2" r="3.7" fill="#fff" stroke="#7a7a7a" stroke-width="0.9"/></svg>
<div class="t" style="left:777.40px;top:514.67px;font-size:8.5px;line-height:8.5px;color:#8f8f8f;font-weight:400;letter-spacing:-0.123px;">Time tracking</div>
<svg style="left:832.80px;top:514.2px" width="10.4" height="10.4"><circle cx="5.2" cy="5.2" r="4.15" fill="#17d27a"/></svg>
<div class="t" style="left:845.20px;top:514.67px;font-size:8.5px;line-height:8.5px;color:#8f8f8f;font-weight:400;letter-spacing:-0.082px;">Vacation</div>
<svg style="left:193px;top:549.3px" width="21.5" height="21.5"><circle cx="10.75" cy="10.75" r="10.75" fill="#5db7e6"/><path d="M12.2,5.8 L15.7,9.3 L14.7,9.8 L13.5,9.5 L11.8,11.2 L12.2,13.2 L11.3,14.1 L7.4,10.2 L8.3,9.3 L10.3,9.7 L12,8 L11.7,6.8z" fill="#fff"/><line x1="9.2" y1="12.3" x2="6.3" y2="15.2" stroke="#fff" stroke-width="1.3"/></svg>
</body></html>
